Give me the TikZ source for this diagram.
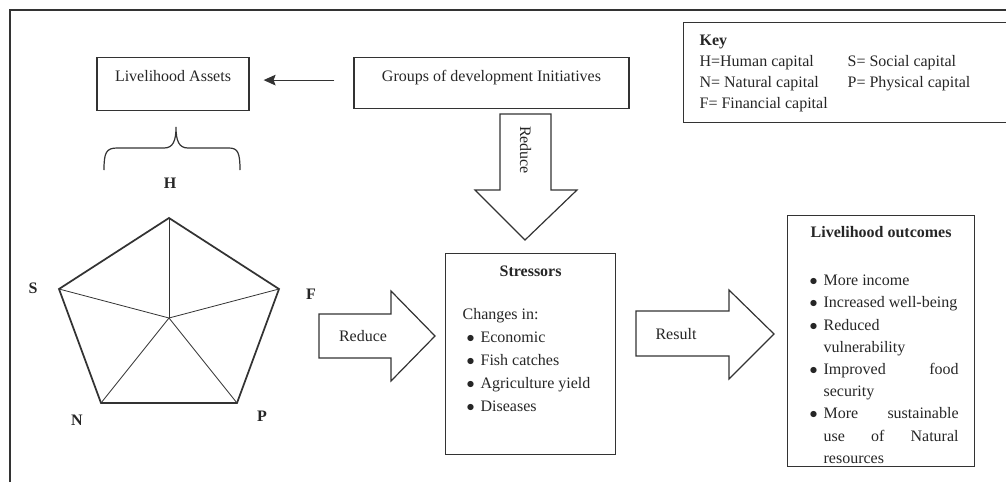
\documentclass[tikz,border=0pt]{standalone}
\usepackage{fontspec}
\setmainfont{Liberation Serif}
\usetikzlibrary{positioning,arrows.meta,calc}
\definecolor{ngray}{HTML}{333333}
\definecolor{ntext}{HTML}{262626}
\newcommand{\px}{0.75pt}
\newcommand{\itm}{\leavevmode\llap{$\bullet$\hspace{4.5pt}}}

\begin{document}
\begin{tikzpicture}[x=0.75pt, y=-0.75pt,
  box/.style={draw=ngray, line width=0.9pt, text=ntext, font=\fontsize{12}{14}\selectfont},
  blk/.style={draw=ngray, line width=0.9pt, fill=white, line join=miter},
  lbl/.style={text=ntext, font=\fontsize{12}{14}\selectfont},
  letter/.style={text=ntext, font=\fontsize{12}{14}\selectfont\bfseries},
  arr/.style={-{Stealth[length=9pt, width=8pt, inset=1.5pt]}, line width=0.9pt, ngray}]
 \useasboundingbox (0,0) rectangle (1006,482);
 \draw[ngray, line width=1.2pt] (10,482) -- (10,10) -- (1006,10);
 \node[box, anchor=north, minimum width=152*\px, inner ysep=6pt, text height=12pt, text depth=15.75pt] (assets) at (173,57) {Livelihood Assets};
 \node[box, anchor=north, minimum width=275*\px, inner ysep=6pt, text height=12pt, text depth=14.25pt] (groups) at (491.5,57) {Groups of development Initiatives};
 \draw[arr] ([xshift=-19*\px, yshift=3*\px]groups.west) -- ([xshift=14*\px, yshift=3*\px]groups.west -| assets.east);
 \node[box, anchor=north west, inner sep=0pt] (key) at (683,22) {\parbox[c][75pt][t]{270pt}{\leftskip=12pt\baselineskip=15.75pt
   \rule{0pt}{17.25pt}\textbf{Key}\par
   \makebox[111pt][l]{H=Human capital}S= Social capital\par
   \makebox[111pt][l]{N= Natural capital}P= Physical capital\par
   F= Financial capital}};
 \draw[ngray, line width=0.9pt] (104,170) .. controls (104,153) and (106,148) .. (117,148) -- (164,148) .. controls (173,148) and (176,141) .. (176,127)
   .. controls (176,141) and (179,148) .. (188,148) -- (229,148) .. controls (238,148) and (240,153) .. (240,170);
 \coordinate (pH) at (169,218);
 \coordinate (pF) at (279,289);
 \coordinate (pP) at (237,403);
 \coordinate (pN) at (101,403);
 \coordinate (pS) at (59,289);
 \coordinate (pc) at (169,318);
 \draw[ngray, line width=1.3pt, line join=miter] (pH) -- (pF) -- (pP) -- (pN) -- (pS) -- cycle;
 \foreach \v in {pH,pF,pP,pN,pS} \draw[ngray, line width=0.6pt] (pc) -- (\v);
 \foreach \n/\x/\y in {H/170/183,S/33/288,F/311/294,N/77/420,P/262/416} \node[letter] (l\n) at (\x,\y) {\n};
 \draw[blk] (500,114) -- (551,114) -- (551,190) -- (577,190) -- (525,240) -- (475,190) -- (500,190) -- cycle;
 \node[lbl, rotate=-90] (reda) at (525.5,150) {Reduce};
 \draw[blk] (319,314) -- (391,314) -- (391,291) -- (435,336) -- (391,381) -- (391,358) -- (319,358) -- cycle;
 \node[lbl] (redb) at (363,336) {Reduce};
 \draw[blk] (636,311) -- (729,311) -- (729,290) -- (774,334) -- (729,379) -- (729,356) -- (636,356) -- cycle;
 \node[lbl] (res) at (676,334) {Result};
 \node[box, anchor=north west, inner sep=0pt] (str) at (445,253) {\parbox[c][150.75pt][t]{127.5pt}{\baselineskip=17.25pt
   \centering\rule{0pt}{17.25pt}\textbf{Stressors}\par
   \vspace{15pt}\raggedright\leftskip=12.75pt
   Changes in:\par
   \leftskip=26.25pt
   \itm Economic\par
   \itm Fish catches\par
   \itm Agriculture yield\par
   \itm Diseases}};
 \node[box, anchor=north west, inner sep=0pt] (out) at (787,215) {\parbox[c][188.25pt][t]{140.25pt}{\baselineskip=16.65pt
   \centering\rule{0pt}{16.5pt}\textbf{Livelihood outcomes}\par
   \vspace{19.35pt}\raggedright\leftskip=27pt
   \itm More income\par
   \itm Increased well-being\par
   \itm Reduced\par
   vulnerability\par
   \itm \makebox[101.25pt][s]{Improved food}\par
   security\par
   \itm \makebox[101.25pt][s]{More sustainable}\par
   \makebox[101.25pt][s]{use of Natural}\par
   resources}};
\end{tikzpicture}
\end{document}
